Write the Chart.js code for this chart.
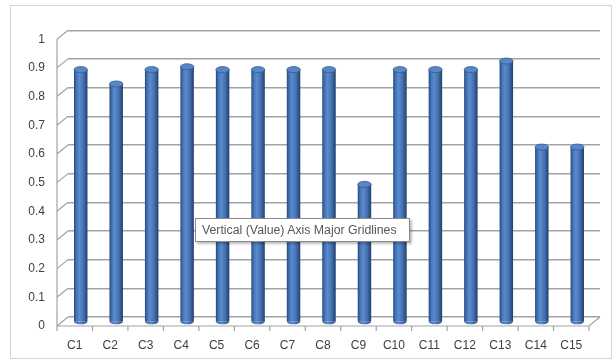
<!DOCTYPE html>
<html>
<head>
<meta charset="utf-8">
<script src="https://cdn.jsdelivr.net/npm/chart.js@4"></script>
<style>
  body { margin: 0; background: #fff; }
  #wrap { position: relative; width: 615px; height: 363px; }
  #tip {
    position: absolute; left: 195px; top: 218px; width: 207px; height: 22px;
    background: #fff; border: 1px solid #8a8a8a; box-shadow: 2px 2px 2px rgba(0,0,0,0.25);
    font: 12.3px "Liberation Sans", Arial, sans-serif; color: #575757;
    line-height: 22px; padding-left: 6px; box-sizing: content-box; white-space: nowrap;
  }
</style>
</head>
<body>
<div id="wrap">
  <canvas id="chart" width="615" height="363"></canvas>
  <div id="tip">Vertical (Value) Axis Major Gridlines</div>
</div>
<script>
const categories = ["C1", "C2", "C3", "C4", "C5", "C6", "C7", "C8", "C9", "C10", "C11", "C12", "C13", "C14", "C15"];
const values = [0.88, 0.83, 0.88, 0.89, 0.88, 0.88, 0.88, 0.88, 0.48, 0.88, 0.88, 0.88, 0.91, 0.61, 0.61];
const yTicks = [0, 0.1, 0.2, 0.3, 0.4, 0.5, 0.6, 0.7, 0.8, 0.9, 1];

// fausse profondeur 3D
const depth = { dx: -11, dy: 9 };
const barShift = { dx: -5, dy: 5 };
const barRatio = 0.38;

function cylGradient(ctx, x0, x1) {
  const g = ctx.createLinearGradient(x0, 0, x1, 0);
  g.addColorStop(0, "#264a7c");
  g.addColorStop(0.2, "#4677bb");
  g.addColorStop(0.4, "#5b8bcd");
  g.addColorStop(0.7, "#4370b0");
  g.addColorStop(1, "#223f6c");
  return g;
}

const ctx = document.getElementById("chart").getContext("2d");

const chart = new Chart(ctx, {
  type: "bar",
  data: {
    labels: categories,
    datasets: [
      {
        data: values,
        backgroundColor: function (c) {
          const xs = c.chart.scales.x;
          if (!xs || xs.right === undefined) return "#4a7cc0";
          const slot = (xs.right - xs.left) / categories.length;
          const cx = xs.getPixelForValue(c.dataIndex);
          const w = slot * barRatio;
          return cylGradient(c.chart.ctx, cx - w / 2, cx + w / 2);
        },
        borderWidth: 0,
        categoryPercentage: 1,
        barPercentage: barRatio,
      },
    ],
  },
  options: {
    responsive: false,
    animation: false,
    layout: { padding: { left: 0, top: 24, right: 15, bottom: 0 } },
    scales: {
      x: {
        afterFit: function (s) { s.height = 46; },
        grid: { display: false, drawTicks: false },
        border: { display: false },
        ticks: {
          labelOffset: depth.dx,
          padding: 21,
          color: "#404040",
          font: { family: "'Liberation Sans', Arial", size: 12 },
        },
      },
      y: {
        min: 0,
        max: 1,
        afterFit: function (s) { s.width = 68; },
        afterBuildTicks: function (s) { s.ticks = yTicks.map((v) => ({ value: v })); },
        grid: { color: "#a3a3a3", lineWidth: 1.4, drawTicks: false },
        border: { display: false },
        ticks: {
          labelOffset: depth.dy,
          padding: 23,
          color: "#404040",
          font: { family: "'Liberation Sans', Arial", size: 12 },
          callback: (v) => String(Math.round(v * 10) / 10),
        },
      },
    },
    plugins: {
      legend: { display: false },
      tooltip: { enabled: false },
    },
  },
  plugins: [
    {
      id: "frame3d",
      beforeDatasetsDraw: function (chart) {
        const c = chart.ctx;
        const a = chart.chartArea;
        const ys = chart.scales.y;
        const xs = chart.scales.x;
        c.save();
        c.strokeStyle = "#a3a3a3";
        c.lineWidth = 1.2;
        c.beginPath();
        // arêtes du mur gauche
        yTicks.forEach((v) => {
          const y = ys.getPixelForValue(v);
          c.moveTo(a.left, y);
          c.lineTo(a.left + depth.dx, y + depth.dy);
        });
        c.moveTo(a.left + depth.dx, ys.getPixelForValue(1) + depth.dy);
        c.lineTo(a.left + depth.dx, ys.getPixelForValue(0) + depth.dy);
        // plancher
        const y0 = ys.getPixelForValue(0);
        c.moveTo(a.left + depth.dx, y0 + depth.dy);
        c.lineTo(a.right + depth.dx, y0 + depth.dy);
        c.lineTo(a.right, y0);
        // graduations de l'axe X
        const slot = (xs.right - xs.left) / categories.length;
        for (let i = 0; i <= categories.length; i++) {
          const x = xs.left + slot * i + depth.dx;
          c.moveTo(x, y0 + depth.dy);
          c.lineTo(x, y0 + depth.dy + 5);
        }
        c.stroke();
        c.restore();

        c.save();
        c.translate(barShift.dx, barShift.dy);
      },
      afterDatasetsDraw: function (chart) {
        const c = chart.ctx;
        const meta = chart.getDatasetMeta(0);
        meta.data.forEach((el) => {
          const w = el.width;
          const rx = w / 2;
          const ry = 3;
          const g = cylGradient(c, el.x - rx, el.x + rx);
          // fond arrondi
          c.beginPath();
          c.ellipse(el.x, el.base, rx, ry, 0, 0, Math.PI);
          c.fillStyle = g;
          c.fill();
          // couvercle
          c.beginPath();
          c.ellipse(el.x, el.y, rx, ry, 0, 0, Math.PI * 2);
          c.fillStyle = "#5a86c6";
          c.fill();
          c.strokeStyle = "#345d96";
          c.lineWidth = 0.8;
          c.stroke();
        });
        c.restore();
      },
      afterDraw: function (chart) {
        const c = chart.ctx;
        c.save();
        c.strokeStyle = "#d4d4d4";
        c.lineWidth = 1;
        c.strokeRect(10.5, 5.5, 601, 353);
        c.restore();
      },
    },
  ],
});
</script>
</body>
</html>
